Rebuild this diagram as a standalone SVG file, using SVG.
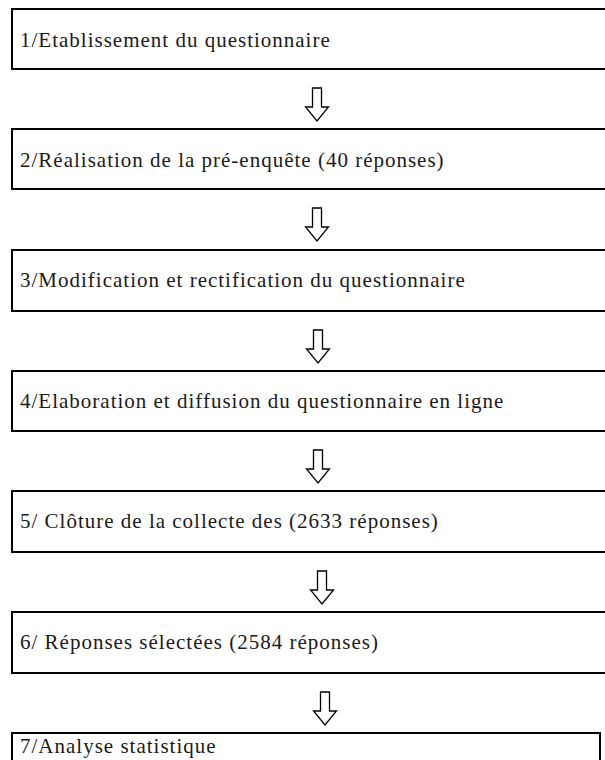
<svg xmlns="http://www.w3.org/2000/svg" width="605" height="760" viewBox="0 0 605 760">
<style>
.box{fill:#fff;stroke:#000;stroke-width:2}
.t{font-family:"Liberation Serif","Times New Roman",serif;font-size:21px;letter-spacing:1px;fill:#1a1a1a}
.arr{fill:#fff;stroke:#000;stroke-width:1.3;stroke-linejoin:miter}
</style>
<defs>
<path id="a" class="arr" d="M-4.5,0 H4.5 V19 H11.5 L0,33 L-11.5,19 H-4.5 Z"/>
</defs>
<rect width="605" height="760" fill="#fff"/>
<g id="n1"><rect class="box" x="12" y="9" width="600" height="60"/><text class="t" x="20" y="47">1/Etablissement du questionnaire</text></g>
<g id="n2"><rect class="box" x="12" y="129" width="600" height="60"/><text class="t" x="20" y="167">2/Réalisation de la pré-enquête (40 réponses)</text></g>
<g id="n3"><rect class="box" x="12" y="250" width="600" height="61"/><text class="t" x="20" y="287">3/Modification et rectification du questionnaire</text></g>
<g id="n4"><rect class="box" x="12" y="371" width="600" height="60"/><text class="t" x="20" y="408">4/Elaboration et diffusion du questionnaire en ligne</text></g>
<g id="n5"><rect class="box" x="12" y="491" width="600" height="61"/><text class="t" x="20" y="528">5/ Clôture de la collecte des (2633 réponses)</text></g>
<g id="n6"><rect class="box" x="12" y="612" width="600" height="61"/><text class="t" x="20" y="649">6/ Réponses sélectées (2584 réponses)</text></g>
<g id="n7"><rect class="box" x="12" y="733" width="588" height="40"/><text class="t" x="20" y="753">7/Analyse statistique</text></g>
<g id="connectors">
<use href="#a" x="317" y="88"/>
<use href="#a" x="317" y="208"/>
<use href="#a" x="318" y="330"/>
<use href="#a" x="318" y="450"/>
<use href="#a" x="322" y="571"/>
<use href="#a" x="325" y="692"/>
</g>
</svg>
